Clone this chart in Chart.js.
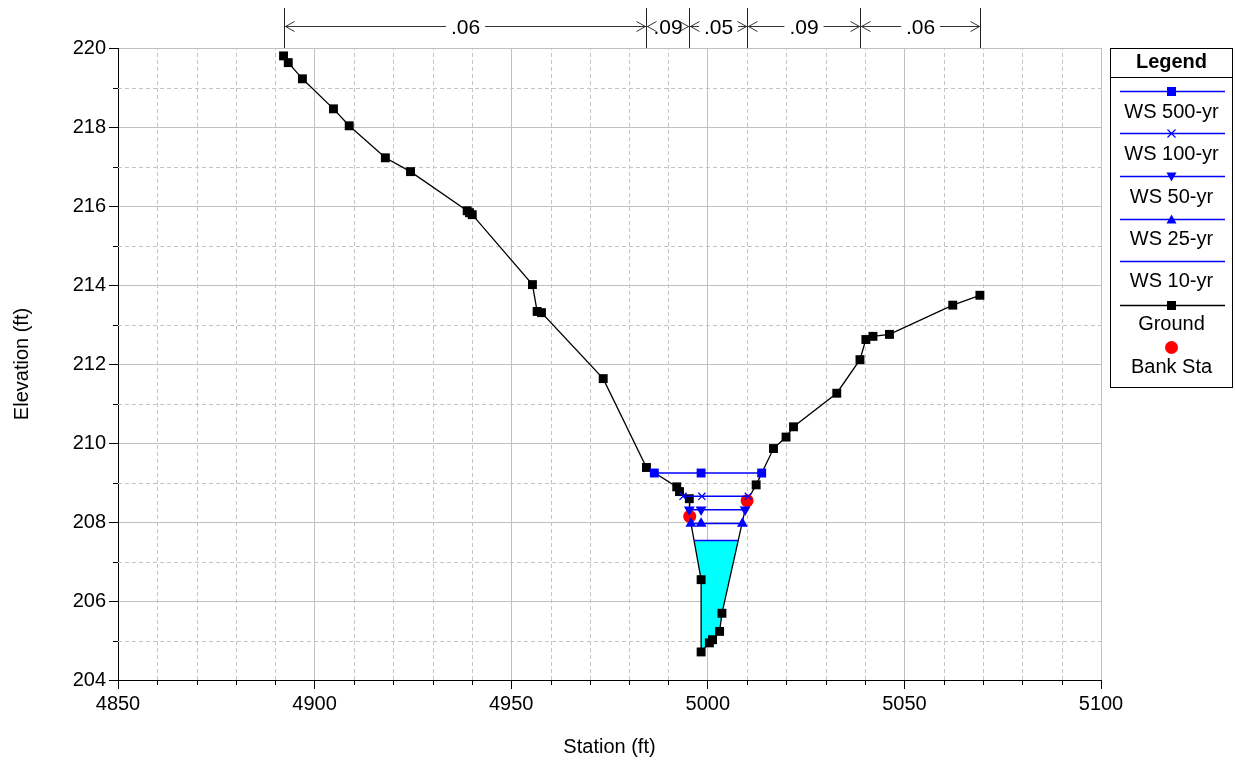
<!DOCTYPE html>
<html lang="en">
<head>
    <meta charset="UTF-8">
    <title>Cross Section</title>
    <script src="https://cdn.jsdelivr.net/npm/chart.js"></script>
    <style>
        body { margin: 0; background: #fff; }
        #wrap { width: 1235px; height: 761px; }
    </style>
</head>
<body>
<div id="wrap"><canvas id="xsChart" width="1235" height="761"></canvas></div>
<script>
    // ground profile
    const groundSta  = [4892.1, 4893.3, 4896.9, 4904.8, 4908.8, 4918.0, 4924.4, 4938.8, 4939.4, 4940.1,
                        4955.4, 4956.6, 4957.7, 4973.4, 4984.4, 4992.1, 4992.8, 4995.3, 4995.4, 4998.3,
                        4998.3, 5000.4, 5001.2, 5003.0, 5003.6, 5010.0, 5012.3, 5016.7, 5019.9, 5021.8,
                        5032.8, 5038.7, 5040.2, 5042.0, 5046.2, 5062.3, 5069.2];
    const groundElev = [219.80, 219.63, 219.22, 218.46, 218.03, 217.22, 216.87, 215.88, 215.83, 215.78,
                        214.01, 213.33, 213.30, 211.63, 209.38, 208.89, 208.77, 208.59, 208.14, 206.54,
                        204.71, 204.94, 205.02, 205.23, 205.69, 208.54, 208.94, 209.86, 210.15, 210.41,
                        211.26, 212.11, 212.62, 212.70, 212.75, 213.49, 213.74];

    // water surfaces
    const ws500Sta = [4986.4, 4998.3, 5013.7];
    const ws500Elev = 209.24;
    const ws100Sta = [4993.7, 4998.5, 5010.3];
    const ws100Elev = 208.65;
    const ws50Sta  = [4995.3, 4998.3, 5009.5];
    const ws50Elev = 208.31;
    const ws25Sta  = [4995.7, 4998.3, 5008.8];
    const ws25Elev = 207.96;
    const ws10Sta  = [4996.6, 5007.7];
    const ws10Elev = 207.53;

    // bank stations
    const bankSta  = [4995.4, 5010.0];
    const bankElev = [208.14, 208.54];

    // Manning's n breaks
    const nBreaks = [4892.1, 4984.4, 4995.3, 5010.0, 5038.7, 5069.2];
    const nValues = ['.06', '.09', '.05', '.09', '.06'];

    const xTicks = { min: 4850, max: 5100, minor: 10, major: 50 };
    const yTicks = { min: 204, max: 220, minor: 1, major: 2 };

    const FONT = '"Liberation Sans", Arial, sans-serif';
    const BLUE = '#0000ff';

    const pts = (xs, ys) => xs.map((x, i) => ({ x: x, y: Array.isArray(ys) ? ys[i] : ys }));
    const isMajor = (v, step) => Math.abs(v % step) < 1e-6;

    // polygon of the 10-yr flow area (WS line + ground below it)
    const wetIdx = groundSta.map((s, i) => i).filter(i => groundSta[i] > ws10Sta[0] && groundSta[i] < ws10Sta[1] && groundElev[i] < ws10Elev);
    const wetPoly = [{ x: ws10Sta[0], y: ws10Elev }]
        .concat(wetIdx.map(i => ({ x: groundSta[i], y: groundElev[i] })))
        .concat([{ x: ws10Sta[1], y: ws10Elev }, { x: ws10Sta[0], y: ws10Elev }]);

    const legendItems = [
        { label: 'WS 500-yr', color: BLUE, marker: 'rect' },
        { label: 'WS 100-yr', color: BLUE, marker: 'cross' },
        { label: 'WS 50-yr', color: BLUE, marker: 'down' },
        { label: 'WS 25-yr', color: BLUE, marker: 'up' },
        { label: 'WS 10-yr', color: BLUE, marker: null },
        { label: 'Ground', color: '#000', marker: 'rect' },
        { label: 'Bank Sta', color: '#ff0000', marker: 'dot', noLine: true }
    ];

    function marker(ctx, type, x, y, color) {
        ctx.fillStyle = color;
        ctx.strokeStyle = color;
        ctx.beginPath();
        if (type === 'rect') {
            ctx.fillRect(x - 4.5, y - 4.5, 9, 9);
        } else if (type === 'cross') {
            ctx.lineWidth = 1.2;
            ctx.moveTo(x - 4, y - 4); ctx.lineTo(x + 4, y + 4);
            ctx.moveTo(x + 4, y - 4); ctx.lineTo(x - 4, y + 4);
            ctx.stroke();
        } else if (type === 'down') {
            ctx.moveTo(x - 5, y - 4); ctx.lineTo(x + 5, y - 4); ctx.lineTo(x, y + 5);
            ctx.fill();
        } else if (type === 'up') {
            ctx.moveTo(x - 5, y + 4); ctx.lineTo(x + 5, y + 4); ctx.lineTo(x, y - 5);
            ctx.fill();
        } else if (type === 'dot') {
            ctx.arc(x, y, 6.5, 0, Math.PI * 2);
            ctx.fill();
        }
    }

    const extras = {
        id: 'extras',
        beforeDatasetsDraw(chart) {
            // dashed minor grid
            const ctx = chart.ctx;
            const xs = chart.scales.x, ys = chart.scales.y;
            const a = chart.chartArea;
            ctx.save();
            ctx.strokeStyle = '#c4c4c4';
            ctx.lineWidth = 1;
            ctx.setLineDash([4, 3]);
            ctx.beginPath();
            xs.ticks.forEach(t => {
                if (!isMajor(t.value, xTicks.major)) {
                    const px = Math.round(xs.getPixelForValue(t.value)) + 0.5;
                    ctx.moveTo(px, a.bottom); ctx.lineTo(px, a.top);
                }
            });
            ys.ticks.forEach(t => {
                if (!isMajor(t.value, yTicks.major)) {
                    const py = Math.round(ys.getPixelForValue(t.value)) + 0.5;
                    ctx.moveTo(a.left, py); ctx.lineTo(a.right, py);
                }
            });
            ctx.stroke();
            ctx.restore();
        },
        afterDraw(chart) {
            const ctx = chart.ctx;
            const xs = chart.scales.x, ys = chart.scales.y;
            ctx.save();

            // short minor ticks
            ctx.strokeStyle = '#000';
            ctx.lineWidth = 1;
            ctx.beginPath();
            xs.ticks.forEach(t => {
                if (!isMajor(t.value, xTicks.major)) {
                    const px = Math.round(xs.getPixelForValue(t.value)) + 0.5;
                    ctx.moveTo(px, ys.bottom); ctx.lineTo(px, ys.bottom + 5);
                }
            });
            ys.ticks.forEach(t => {
                if (!isMajor(t.value, yTicks.major)) {
                    const py = Math.round(ys.getPixelForValue(t.value)) + 0.5;
                    ctx.moveTo(xs.left - 5, py); ctx.lineTo(xs.left, py);
                }
            });
            ctx.stroke();

            // n value dimension lines above the plot
            const top = chart.chartArea.top;
            const yLine = 26.5;
            const bx = nBreaks.map(v => Math.round(xs.getPixelForValue(v)) + 0.5);
            ctx.strokeStyle = '#222';
            ctx.beginPath();
            bx.forEach(p => { ctx.moveTo(p, 8); ctx.lineTo(p, top); });
            ctx.stroke();
            ctx.font = '21px ' + FONT;
            ctx.textAlign = 'center';
            ctx.textBaseline = 'middle';
            ctx.fillStyle = '#000';
            ctx.strokeStyle = '#333';
            for (let i = 0; i < nValues.length; i++) {
                const a = bx[i], b = bx[i + 1], mid = (a + b) / 2;
                const half = ctx.measureText(nValues[i]).width / 2 + 5;
                ctx.beginPath();
                if (mid - half > a) { ctx.moveTo(a, yLine); ctx.lineTo(mid - half, yLine); }
                if (mid + half < b) { ctx.moveTo(mid + half, yLine); ctx.lineTo(b, yLine); }
                ctx.moveTo(a + 10, yLine - 5); ctx.lineTo(a + 1, yLine); ctx.lineTo(a + 10, yLine + 5);
                ctx.moveTo(b - 10, yLine - 5); ctx.lineTo(b - 1, yLine); ctx.lineTo(b - 10, yLine + 5);
                ctx.stroke();
                ctx.fillText(nValues[i], mid, yLine + 2);
            }

            // legend box
            const lx0 = 1110.5, lx1 = 1232.5, ly0 = 48.5, ly1 = 387.5;
            const cx = (lx0 + lx1) / 2;
            ctx.fillStyle = '#fff';
            ctx.fillRect(lx0, ly0, lx1 - lx0, ly1 - ly0);
            ctx.strokeStyle = '#000';
            ctx.lineWidth = 1;
            ctx.strokeRect(lx0, ly0, lx1 - lx0, ly1 - ly0);
            ctx.beginPath();
            ctx.moveTo(lx0, 77.5); ctx.lineTo(lx1, 77.5);
            ctx.stroke();
            ctx.fillStyle = '#000';
            ctx.font = 'bold 20px ' + FONT;
            ctx.fillText('Legend', cx, 62);
            ctx.font = '20px ' + FONT;
            const lineY = [91, 133, 176, 219, 261, 305, 347];
            const textY = [112, 154, 197, 239, 281, 324, 367];
            legendItems.forEach((it, i) => {
                if (!it.noLine) {
                    ctx.strokeStyle = it.color;
                    ctx.lineWidth = 1.3;
                    ctx.beginPath();
                    ctx.moveTo(1120, lineY[i] + 0.5); ctx.lineTo(1225, lineY[i] + 0.5);
                    ctx.stroke();
                }
                if (it.marker) marker(ctx, it.marker, cx, lineY[i] + 0.5, it.color);
                ctx.fillStyle = '#000';
                ctx.fillText(it.label, cx, textY[i]);
            });
            ctx.restore();
        }
    };

    const wsLine = (label, sta, elev, style, rot) => ({
        label: label,
        data: pts(sta, elev),
        showLine: true,
        borderColor: BLUE,
        backgroundColor: BLUE,
        borderWidth: 1.5,
        pointStyle: style,
        pointRotation: rot || 0,
        pointRadius: style === 'crossRot' ? 5 : 6.3,
        pointBorderWidth: style === 'crossRot' ? 1.3 : 0,
        pointBorderColor: BLUE
    });

    new Chart(document.getElementById('xsChart'), {
        type: 'scatter',
        data: {
            datasets: [
                wsLine('WS 500-yr', ws500Sta, ws500Elev, 'rect'),
                wsLine('WS 100-yr', ws100Sta, ws100Elev, 'crossRot'),
                wsLine('WS 50-yr', ws50Sta, ws50Elev, 'triangle', 180),
                wsLine('WS 25-yr', ws25Sta, ws25Elev, 'triangle'),
                {
                    label: 'WS 10-yr',
                    data: pts(ws10Sta, ws10Elev),
                    showLine: true,
                    borderColor: BLUE,
                    borderWidth: 1.5,
                    pointRadius: 0
                },
                {
                    label: 'Bank Sta',
                    data: pts(bankSta, bankElev),
                    showLine: false,
                    backgroundColor: '#ff0000',
                    pointStyle: 'circle',
                    pointRadius: 6.5,
                    pointBorderWidth: 0
                },
                {
                    label: 'Ground',
                    data: pts(groundSta, groundElev),
                    showLine: true,
                    borderColor: '#000',
                    backgroundColor: '#000',
                    borderWidth: 1.3,
                    pointStyle: 'rect',
                    pointRadius: 6.3,
                    pointBorderWidth: 0
                },
                {
                    label: 'flow area',
                    data: wetPoly,
                    showLine: true,
                    borderWidth: 0,
                    borderColor: 'rgba(0,0,0,0)',
                    backgroundColor: '#00ffff',
                    pointRadius: 0,
                    fill: 'shape'
                }
            ]
        },
        options: {
            responsive: false,
            animation: false,
            layout: { padding: { top: 48, right: 134, left: 0, bottom: 0 } },
            plugins: {
                legend: { display: false },
                tooltip: { enabled: false }
            },
            scales: {
                x: {
                    type: 'linear',
                    min: xTicks.min,
                    max: xTicks.max,
                    afterFit: s => { s.height = 81; },
                    ticks: {
                        stepSize: xTicks.minor,
                        autoSkip: false,
                        maxRotation: 0,
                        padding: 3,
                        color: '#000',
                        font: { family: FONT, size: 20 },
                        callback: v => isMajor(v, xTicks.major) ? String(v) : ''
                    },
                    grid: {
                        color: c => c.tick && isMajor(c.tick.value, xTicks.major) ? '#c0c0c0' : 'rgba(0,0,0,0)',
                        lineWidth: 1,
                        tickLength: 9,
                        tickColor: c => c.tick && isMajor(c.tick.value, xTicks.major) ? '#000' : 'rgba(0,0,0,0)'
                    },
                    border: { color: '#000', width: 1 },
                    title: {
                        display: true,
                        text: 'Station (ft)',
                        color: '#000',
                        font: { family: FONT, size: 20 },
                        padding: { top: 0, bottom: 2 }
                    }
                },
                y: {
                    type: 'linear',
                    min: yTicks.min,
                    max: yTicks.max,
                    afterFit: s => { s.width = 118; },
                    ticks: {
                        stepSize: yTicks.minor,
                        autoSkip: false,
                        padding: 3,
                        color: '#000',
                        font: { family: FONT, size: 20 },
                        callback: v => isMajor(v, yTicks.major) ? String(v) : ''
                    },
                    grid: {
                        color: c => c.tick && isMajor(c.tick.value, yTicks.major) ? '#c0c0c0' : 'rgba(0,0,0,0)',
                        lineWidth: 1,
                        tickLength: 9,
                        tickColor: c => c.tick && isMajor(c.tick.value, yTicks.major) ? '#000' : 'rgba(0,0,0,0)'
                    },
                    border: { color: '#000', width: 1 },
                    title: {
                        display: true,
                        text: 'Elevation (ft)',
                        color: '#000',
                        font: { family: FONT, size: 20 },
                        padding: { top: 10, bottom: 0 }
                    }
                }
            }
        },
        plugins: [extras]
    });
</script>
</body>
</html>
